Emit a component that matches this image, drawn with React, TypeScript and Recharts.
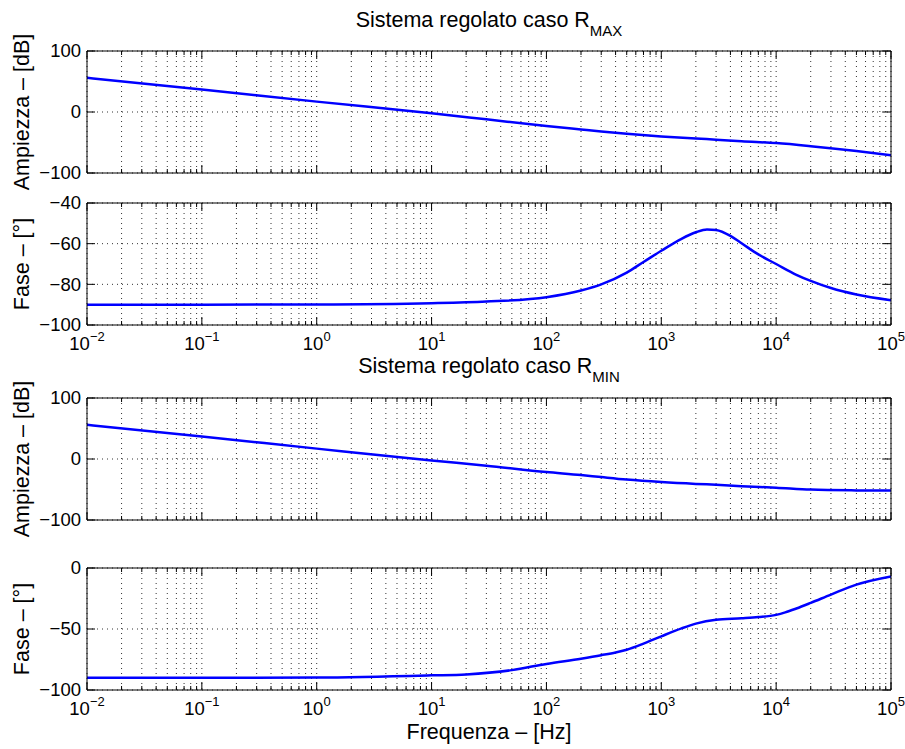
import { LineChart, Line, XAxis, YAxis, CartesianGrid } from 'recharts';

// frequency axis: decades and log minor ticks
const decades = [-2, -1, 0, 1, 2, 3, 4];
const mantissas = [1, 2, 3, 4, 5, 6, 7, 8, 9];
const xTicks = [...decades.flatMap((d) => mantissas.map((m) => m * 10 ** d)), 100000];

// R_MAX magnitude [dB]
const magMaxFreq = [0.01, 0.1, 1, 10, 30, 100, 200, 300, 500, 1000, 2000, 3000, 5000, 10000, 20000, 50000, 100000];
const magMaxDb = [56, 37, 17, -2, -12, -23, -28.7, -32, -35.6, -40, -43.5, -45.3, -48, -51, -56, -64, -71];

// R_MAX phase [deg]
const phaseMaxFreq = [0.01, 0.1, 1, 10, 30, 100, 200, 300, 500, 700, 1000, 1500, 2000, 2500, 3000, 4000, 5000, 7000, 10000, 15000, 20000, 30000, 50000, 100000];
const phaseMaxDeg = [-90, -90, -89.9, -89.3, -88.5, -86.3, -83, -80, -74.2, -69, -63.5, -57.6, -54.4, -53, -53.3, -56.2, -59.8, -65.3, -70, -75.3, -78.3, -81.8, -85, -87.8];

// R_MIN magnitude [dB]
const magMinFreq = [0.01, 0.1, 1, 10, 30, 100, 200, 300, 500, 1000, 2000, 3000, 5000, 10000, 20000, 50000, 100000];
const magMinDb = [56, 37, 17, -2.5, -11, -21.4, -26.2, -29.6, -33.7, -37.8, -40.8, -42.2, -44.5, -47, -50.2, -51.5, -51.8];

// R_MIN phase [deg]
const phaseMinFreq = [0.01, 0.1, 1, 10, 20, 50, 100, 200, 300, 400, 500, 700, 1000, 1500, 2000, 3000, 5000, 7000, 10000, 12000, 15000, 20000, 30000, 50000, 100000];
const phaseMinDeg = [-90, -90, -89.8, -88, -87.2, -83.7, -78.6, -74.3, -71.5, -69.3, -67, -62, -56, -49.5, -45.6, -42.4, -41.2, -40.2, -38.4, -36.4, -33.2, -28.6, -21.8, -13.6, -6.9];

const magTicks = [-100, 0, 100];
const phaseMaxTicks = [-100, -80, -60, -40];
const phaseMinTicks = [-100, -50, 0];

const W = 905;
const TOP_AX = 20;
const PANEL_H = 122;
const BOTTOM_AX = 50;
const LEFT_AX = 87;
const RIGHT_AX = 14;
const FONT = '"Liberation Sans", Arial, Helvetica, sans-serif';

const fmtNum = (v: number) => (v < 0 ? `\u2212${Math.abs(v)}` : `${v}`);

function XTick(props: any) {
  const { x, y, payload, dir, showLabel } = props;
  const v = payload.value as number;
  const e = Math.log10(v);
  const exp = Math.round(e);
  const major = Math.abs(e - exp) < 1e-9;
  const len = major ? 8 : 4;
  return (
    <g>
      <line x1={x} x2={x} y1={y} y2={y + dir * len} stroke="#000" strokeWidth={1} />
      {showLabel && major && (
        <text x={x} y={y + 25} textAnchor="middle" fontSize={18.5} fill="#000">
          10<tspan dy={-9} fontSize={13}>{fmtNum(exp)}</tspan>
        </text>
      )}
    </g>
  );
}

function YTick(props: any) {
  const { x, y, payload, dir, showLabel } = props;
  return (
    <g>
      <line x1={x} x2={x + dir * 8} y1={y} y2={y} stroke="#000" strokeWidth={1} />
      {showLabel && (
        <text x={x - 6} y={y} dy="0.35em" textAnchor="end" fontSize={18.5} fill="#000">
          {fmtNum(payload.value)}
        </text>
      )}
    </g>
  );
}

function BodePanel({
  top,
  freq,
  values,
  yTicks,
  yLabel,
  showX,
}: {
  top: number;
  freq: number[];
  values: number[];
  yTicks: number[];
  yLabel: string;
  showX: boolean;
}) {
  const data = freq.map((f, i) => ({ f, v: values[i] }));
  const yDomain = [yTicks[0], yTicks[yTicks.length - 1]];
  return (
    <div style={{ position: 'absolute', left: 0, top: top - TOP_AX }}>
      <LineChart
        width={W}
        height={TOP_AX + PANEL_H + BOTTOM_AX}
        data={data}
        margin={{ top: 0, right: 0, bottom: 0, left: 0 }}
      >
        <CartesianGrid stroke="#333" strokeDasharray="1 4" />
        <XAxis
          dataKey="f"
          type="number"
          scale="log"
          domain={[0.01, 100000]}
          allowDataOverflow
          ticks={xTicks}
          interval={0}
          height={BOTTOM_AX}
          tickSize={0}
          tickMargin={0}
          tickLine={false}
          axisLine={{ stroke: '#000' }}
          tick={(p: any) => <XTick {...p} dir={-1} showLabel={showX} />}
        />
        <XAxis
          xAxisId="top"
          orientation="top"
          dataKey="f"
          type="number"
          scale="log"
          domain={[0.01, 100000]}
          allowDataOverflow
          ticks={xTicks}
          interval={0}
          height={TOP_AX}
          tickSize={0}
          tickMargin={0}
          tickLine={false}
          axisLine={{ stroke: '#000' }}
          tick={(p: any) => <XTick {...p} dir={1} showLabel={false} />}
        />
        <YAxis
          type="number"
          domain={yDomain}
          allowDataOverflow
          ticks={yTicks}
          interval={0}
          width={LEFT_AX}
          tickSize={0}
          tickMargin={0}
          tickLine={false}
          axisLine={{ stroke: '#000' }}
          tick={(p: any) => <YTick {...p} dir={1} showLabel />}
          label={{
            value: yLabel,
            angle: -90,
            position: 'insideLeft',
            offset: 21,
            style: { textAnchor: 'middle', fontSize: 21.5, fill: '#000' },
          }}
        />
        <YAxis
          yAxisId="right"
          orientation="right"
          type="number"
          domain={yDomain}
          allowDataOverflow
          ticks={yTicks}
          interval={0}
          width={RIGHT_AX}
          tickSize={0}
          tickMargin={0}
          tickLine={false}
          axisLine={{ stroke: '#000' }}
          tick={(p: any) => <YTick {...p} dir={-1} showLabel={false} />}
        />
        <Line
          dataKey="v"
          type="monotone"
          stroke="#0000ff"
          strokeWidth={2.5}
          dot={false}
          isAnimationActive={false}
        />
      </LineChart>
    </div>
  );
}

export default function App() {
  return (
    <div
      style={{
        position: 'absolute',
        left: 0,
        top: 0,
        width: W,
        height: 749,
        background: '#fff',
        fontFamily: FONT,
      }}
    >
      <BodePanel top={51} freq={magMaxFreq} values={magMaxDb} yTicks={magTicks} yLabel="Ampiezza – [dB]" showX={false} />
      <BodePanel top={203} freq={phaseMaxFreq} values={phaseMaxDeg} yTicks={phaseMaxTicks} yLabel="Fase – [°]" showX />
      <BodePanel top={398} freq={magMinFreq} values={magMinDb} yTicks={magTicks} yLabel="Ampiezza – [dB]" showX={false} />
      <BodePanel top={568} freq={phaseMinFreq} values={phaseMinDeg} yTicks={phaseMinTicks} yLabel="Fase – [°]" showX />

      <svg width={W} height={749} style={{ position: 'absolute', left: 0, top: 0, pointerEvents: 'none' }}>
        <text x={489} y={27} textAnchor="middle" fontSize={21.5} fill="#000">
          Sistema regolato caso R<tspan dy={9} fontSize={15}>MAX</tspan>
        </text>
        <text x={489} y={373} textAnchor="middle" fontSize={21.5} fill="#000">
          Sistema regolato caso R<tspan dy={9} fontSize={15}>MIN</tspan>
        </text>
        <text x={489} y={739} textAnchor="middle" fontSize={21.5} fill="#000">
          Frequenza – [Hz]
        </text>
      </svg>
    </div>
  );
}
